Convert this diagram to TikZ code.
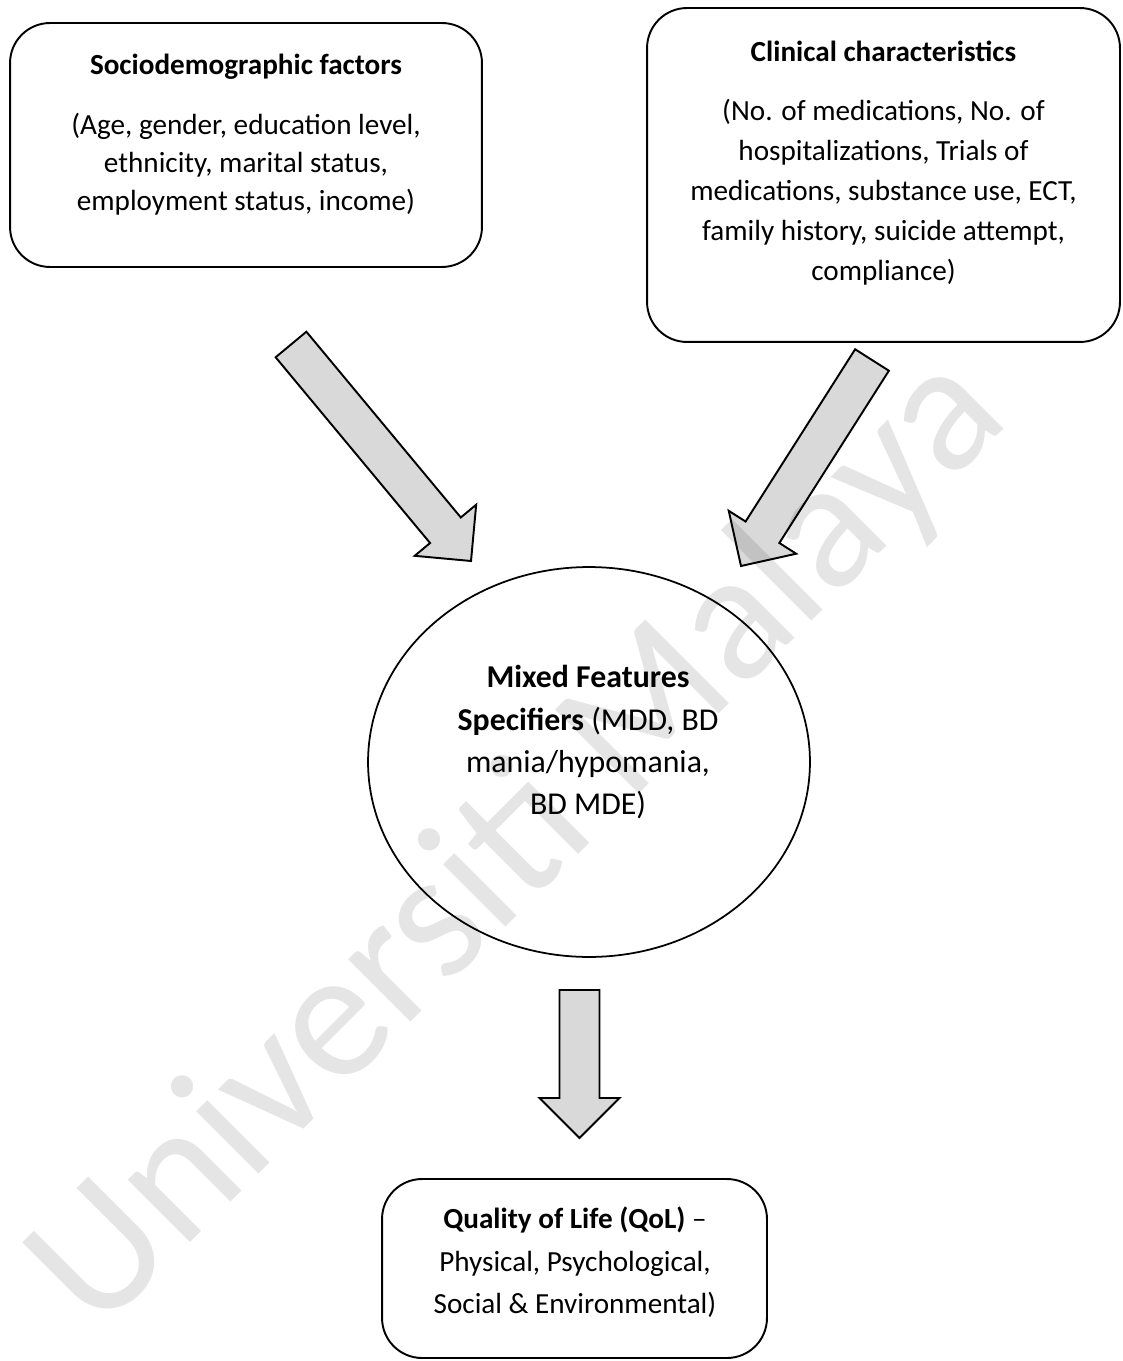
\documentclass[tikz,border=0pt]{standalone}
\usepackage{fontspec}
\setmainfont{Carlito}
\usepackage{tikz}
\usepackage{xcolor}
\usetikzlibrary{calc,positioning,shapes.geometric}
\definecolor{ink}{HTML}{000000}
\definecolor{arrowfill}{HTML}{D9D9D9}
\tikzset{
  roundbox/.style={draw=ink,line width=1.1pt,rounded corners=0.8cm,inner sep=0pt},
  ovalbox/.style={ellipse,draw=ink,line width=1.0pt,inner sep=0pt},
  boxtext/.style={align=center,inner sep=0pt,font=\fontsize{16.6}{21.6}\selectfont},
  blockarr/.style={draw=ink,fill=arrowfill,line width=1.1pt,line join=miter},
  watermark/.style={font=\fontsize{105}{105}\selectfont,text=black,text opacity=0.1,inner sep=0pt}
}
\newcommand{\blockarrow}[2]{%
  \coordinate (hb) at ($(#2)!0.8cm!(#1)$);
  \draw[blockarr] ($(#1)!0.4cm!90:(#2)$) -- ($(hb)!0.4cm!-90:(#1)$)
    -- ($(hb)!0.8cm!-90:(#1)$) -- (#2) -- ($(hb)!0.8cm!90:(#1)$)
    -- ($(hb)!0.4cm!90:(#1)$) -- ($(#1)!0.4cm!-90:(#2)$) -- cycle;
}
\begin{document}
\begin{tikzpicture}[x=0.02cm,y=-0.02cm]
  \useasboundingbox[fill=white] (0,0) rectangle (1122,1361);
  \node[roundbox,minimum width=9.44cm,minimum height=4.88cm] (socio) at (246,145) {};
  \node[roundbox,minimum width=9.46cm,minimum height=6.68cm] (clin) at (883.5,175) {};
  \node[ovalbox,minimum width=8.84cm,minimum height=7.8cm] (mfs) at (589,762) {};
  \node[roundbox,minimum width=7.7cm,minimum height=3.58cm] (qol) at (574.5,1268.5) {};
  \node[boxtext] (sociotxt) at (246,134.5)
    {\textbf{Sociodemographic factors}\\[13pt]
     (Age, gender, education level,\\ ethnicity, marital status,\\ employment status, income)};
  \node[boxtext,font=\fontsize{16.6}{22.8}\selectfont] (clintxt) at (883.5,163)
    {\textbf{Clinical characteristics}\\[10.8pt]
     (No. of medications, No. of\\ hospitalizations, Trials of\\ medications, substance use, ECT,\\
     family history, suicide attempt,\\ compliance)};
  \node[boxtext,font=\fontsize{18.1}{24.1}\selectfont] (mfstxt) at (588,742.5)
    {\textbf{Mixed Features}\\ \textbf{Specifiers} (MDD, BD\\ mania/hypomania,\\ BD MDE)};
  \node[boxtext,font=\fontsize{16.6}{24.2}\selectfont] (qoltxt) at (575,1262.5)
    {\textbf{Quality of Life (QoL)} --\\ Physical, Psychological,\\ Social \& Environmental)};
  \coordinate (socioout) at (291,344.5);
  \coordinate (mfsinl) at (471,561);
  \coordinate (clinout) at (872,360);
  \coordinate (mfsinr) at (741,566);
  \coordinate (mfsout) at (579.5,990);
  \coordinate (qolin) at (579.5,1138);
  \blockarrow{socioout}{mfsinl}
  \blockarrow{clinout}{mfsinr}
  \blockarrow{mfsout}{qolin}
  \node[watermark,rotate=45,anchor=base] (mark) at (555,878) {Universiti Malaya};
\end{tikzpicture}
\end{document}
